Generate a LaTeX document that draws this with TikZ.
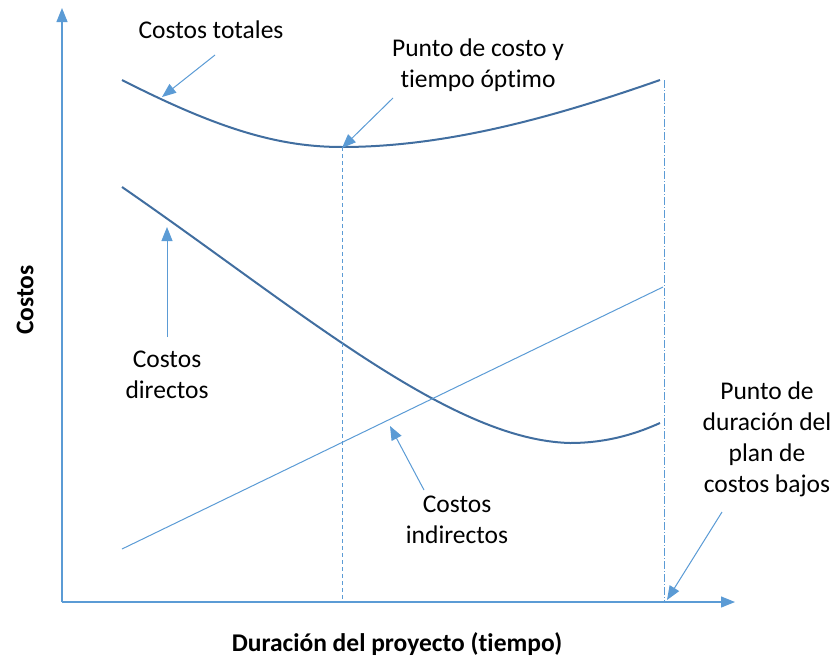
\documentclass[tikz,border=0pt]{standalone}
\usepackage{fontspec}
\setmainfont{Carlito}[Ligatures=NoCommon]
\usetikzlibrary{arrows.meta}
\definecolor{ejeazul}{RGB}{91,155,213}
\definecolor{curvaazul}{RGB}{65,110,160}
\begin{document}
\begin{tikzpicture}[x=1pt,y=-1pt]
\tikzstyle{every node}+=[inner sep=0pt,font=\fontsize{25.5}{31}\selectfont,align=center]
\tikzstyle{eje}=[ejeazul,line width=1.2pt,-{Triangle[length=14pt,width=11pt]}]
\tikzstyle{flecha}=[ejeazul,line width=1pt,-{Triangle[length=14pt,width=11pt]}]
\tikzstyle{curva}=[curvaazul,line width=2pt]
\useasboundingbox (0,0) rectangle (833,659);
% ejes
\coordinate (o) at (62,602);
\coordinate (ytop) at (62,8);
\coordinate (xend) at (735,602);
\draw [eje] (o) -- (ytop);
\draw [eje] (o) -- (xend);
\node [rotate=90,font=\fontsize{25.5}{31}\selectfont\bfseries] (ylab) at (25,300) {Costos};
\node [font=\fontsize{25.5}{31}\selectfont\bfseries] (xlab) at (397,644) {Duración del proyecto (tiempo)};
% costos totales
\coordinate (t0) at (122,80);
\coordinate (tmin) at (342,147);
\coordinate (t1) at (660,80);
\draw [curva] (t0) .. controls (220,130) and (280,147) .. (tmin) .. controls (450,147) and (560,115) .. (t1);
% costos directos
\coordinate (d0) at (122,187);
\coordinate (dmin) at (570,443);
\coordinate (d1) at (660,423);
\draw [curva] (d0) .. controls (300,310) and (450,440) .. (dmin) .. controls (610,443) and (640,432) .. (d1);
% costos indirectos
\coordinate (i0) at (122,549);
\coordinate (i1) at (663,287);
\draw [ejeazul,line width=1pt] (i0) -- (i1);
% verticales
\coordinate (optbase) at (342,602);
\coordinate (bajtop) at (664,80);
\coordinate (bajbase) at (664,602);
\draw [ejeazul,line width=1pt,dash pattern=on 4pt off 3pt] (tmin) -- (optbase);
\draw [ejeazul,line width=1pt,dash pattern=on 8pt off 2pt on 1pt off 2pt] (bajtop) -- (bajbase);
% etiquetas
\node (totales) at (211,30) {Costos totales};
\coordinate (totalesA) at (215,55);
\coordinate (totalesB) at (162,97);
\draw [flecha] (totalesA) -- (totalesB);

\node (optimo) at (478,65) {Punto de costo y\\tiempo óptimo};
\coordinate (optimoA) at (393,98);
\coordinate (optimoB) at (342,148);
\draw [flecha] (optimoA) -- (optimoB);

\node (directos) at (167,375) {Costos\\directos};
\coordinate (directosA) at (167,337);
\coordinate (directosB) at (167,227);
\draw [flecha] (directosA) -- (directosB);

\node (indirectos) at (457,520) {Costos\\indirectos};
\coordinate (indirectosA) at (424,490);
\coordinate (indirectosB) at (390,426);
\draw [flecha] (indirectosA) -- (indirectosB);

\node (bajos) at (767,439) {Punto de\\duración del\\plan de\\costos bajos};
\coordinate (bajosA) at (722,512);
\coordinate (bajosB) at (667,600);
\draw [flecha] (bajosA) -- (bajosB);
\end{tikzpicture}
\end{document}
